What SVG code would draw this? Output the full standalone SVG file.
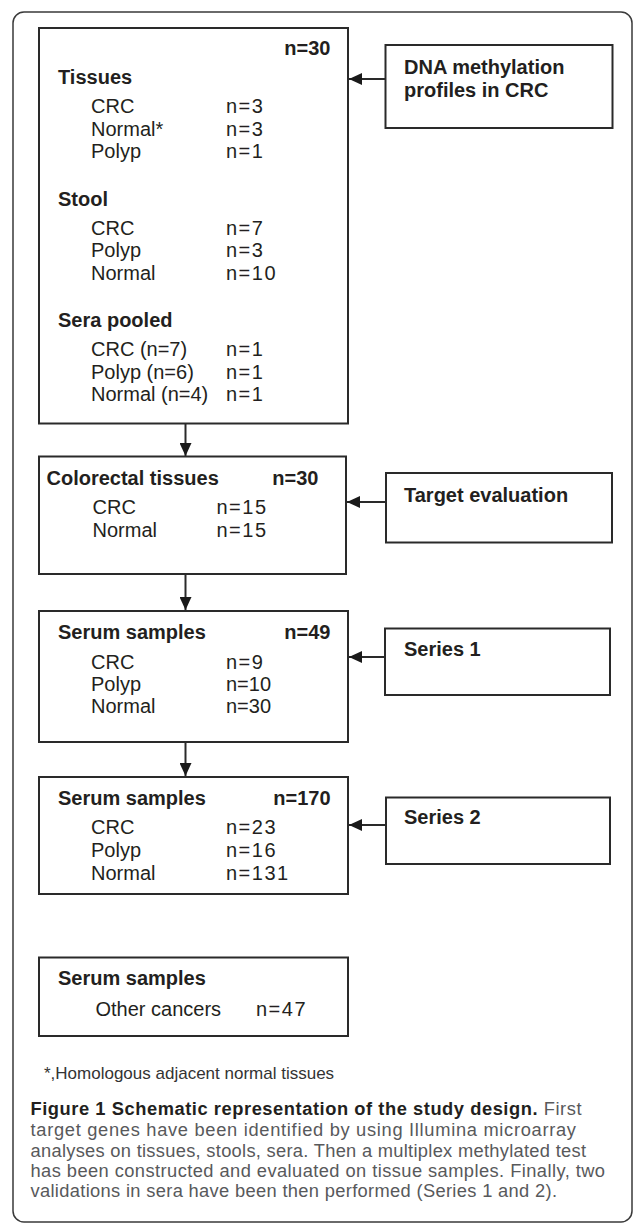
<svg xmlns="http://www.w3.org/2000/svg" width="633" height="1232" viewBox="0 0 633 1232">
  <style>
    .box { fill: #ffffff; stroke: #2a2a2a; stroke-width: 2; }
    .frame { fill: none; stroke: #3a3a3a; stroke-width: 1.5; }
    .t { font-family: "Liberation Sans", Arial, sans-serif; font-size: 20px; fill: #231f20; }
    .b { font-weight: bold; }
    .v { letter-spacing: 1.5px; }
    .conn { stroke: #2a2a2a; stroke-width: 2; fill: none; }
    .foot { font-family: "Liberation Sans", Arial, sans-serif; font-size: 17px; fill: #333333; }
    .cap { font-family: "Liberation Sans", Arial, sans-serif; font-size: 18.3px; fill: #58595b; }
    .capb { font-weight: bold; fill: #231f20; }
  </style>
  <defs>
    <marker id="ah" markerUnits="userSpaceOnUse" markerWidth="14" markerHeight="12" refX="13" refY="6" orient="auto">
      <path d="M0,0 L13,6 L0,12 Z" fill="#1a1a1a"/>
    </marker>
  </defs>

  <rect class="frame" x="13" y="12" width="619" height="1210" rx="11" ry="11"/>

  <g id="connectors">
    <line class="conn" x1="185.5" y1="424" x2="185.5" y2="456" marker-end="url(#ah)"/>
    <line class="conn" x1="185.5" y1="575" x2="185.5" y2="610" marker-end="url(#ah)"/>
    <line class="conn" x1="185.5" y1="743" x2="185.5" y2="776" marker-end="url(#ah)"/>
    <line class="conn" x1="385.5" y1="79" x2="349" y2="79" marker-end="url(#ah)"/>
    <line class="conn" x1="386" y1="502" x2="347" y2="502" marker-end="url(#ah)"/>
    <line class="conn" x1="385" y1="657" x2="349" y2="657" marker-end="url(#ah)"/>
    <line class="conn" x1="386" y1="825" x2="349" y2="825" marker-end="url(#ah)"/>
  </g>

  <g id="discovery">
    <rect class="box" x="39" y="28" width="309" height="395.5"/>
    <text class="t b" x="330.5" y="55" text-anchor="end">n=30</text>
    <text class="t b" x="58" y="84">Tissues</text>
    <text class="t" x="91" y="113">CRC</text>
    <text class="t v" x="226" y="113">n=3</text>
    <text class="t" x="91" y="135.5">Normal*</text>
    <text class="t v" x="226" y="135.5">n=3</text>
    <text class="t" x="91" y="158">Polyp</text>
    <text class="t v" x="226" y="158">n=1</text>
    <text class="t b" x="58" y="205.5">Stool</text>
    <text class="t" x="91" y="234.5">CRC</text>
    <text class="t v" x="226" y="234.5">n=7</text>
    <text class="t" x="91" y="257">Polyp</text>
    <text class="t v" x="226" y="257">n=3</text>
    <text class="t" x="91" y="279.5">Normal</text>
    <text class="t v" x="226" y="279.5">n=10</text>
    <text class="t b" x="58" y="327">Sera pooled</text>
    <text class="t" x="91" y="356">CRC (n=7)</text>
    <text class="t v" x="226" y="356">n=1</text>
    <text class="t" x="91" y="378.5">Polyp (n=6)</text>
    <text class="t v" x="226" y="378.5">n=1</text>
    <text class="t" x="91" y="401">Normal (n=4)</text>
    <text class="t v" x="226" y="401">n=1</text>
  </g>

  <g id="dna-methylation">
    <rect class="box" x="385.5" y="45" width="227" height="83"/>
    <text class="t b" x="404" y="74">DNA methylation</text>
    <text class="t b" x="404" y="97">profiles in CRC</text>
  </g>

  <g id="colorectal-tissues">
    <rect class="box" x="39" y="456.5" width="307" height="117.5"/>
    <text class="t b" x="46.5" y="485">Colorectal tissues</text>
    <text class="t b" x="318.5" y="485" text-anchor="end">n=30</text>
    <text class="t" x="92.5" y="513.5">CRC</text>
    <text class="t v" x="216.5" y="513.5">n=15</text>
    <text class="t" x="92.5" y="536.5">Normal</text>
    <text class="t v" x="216.5" y="536.5">n=15</text>
  </g>

  <g id="target-evaluation">
    <rect class="box" x="386" y="473" width="226" height="69.5"/>
    <text class="t b" x="404" y="502">Target evaluation</text>
  </g>

  <g id="serum-series1">
    <rect class="box" x="39" y="611" width="309" height="131"/>
    <text class="t b" x="58" y="638.5">Serum samples</text>
    <text class="t b" x="330.5" y="638.5" text-anchor="end">n=49</text>
    <text class="t" x="91" y="668.5">CRC</text>
    <text class="t v" x="226" y="668.5">n=9</text>
    <text class="t" x="91" y="690.5">Polyp</text>
    <text class="t" x="226" y="690.5">n=10</text>
    <text class="t" x="91" y="713">Normal</text>
    <text class="t" x="226" y="713">n=30</text>
  </g>

  <g id="series1">
    <rect class="box" x="385" y="628.5" width="225" height="66.5"/>
    <text class="t b" x="404" y="656">Series 1</text>
  </g>

  <g id="serum-series2">
    <rect class="box" x="39" y="777" width="309" height="117"/>
    <text class="t b" x="58" y="805">Serum samples</text>
    <text class="t b" x="330.5" y="805" text-anchor="end">n=170</text>
    <text class="t" x="91" y="834">CRC</text>
    <text class="t v" x="226" y="834">n=23</text>
    <text class="t" x="91" y="856.5">Polyp</text>
    <text class="t v" x="226" y="856.5">n=16</text>
    <text class="t" x="91" y="879.5">Normal</text>
    <text class="t v" x="226" y="879.5">n=131</text>
  </g>

  <g id="series2">
    <rect class="box" x="386" y="797.5" width="224" height="66.5"/>
    <text class="t b" x="404" y="823.5">Series 2</text>
  </g>

  <g id="serum-other">
    <rect class="box" x="39" y="957.5" width="309" height="78.5"/>
    <text class="t b" x="58" y="985">Serum samples</text>
    <text class="t" x="95.5" y="1016">Other cancers</text>
    <text class="t v" x="256" y="1016">n=47</text>
  </g>

  <text class="foot" x="44" y="1079">*,Homologous adjacent normal tissues</text>

  <g id="caption">
    <text class="cap" x="30.5" y="1115" textLength="551" lengthAdjust="spacing"><tspan class="capb">Figure 1 Schematic representation of the study design.</tspan> First</text>
    <text class="cap" x="30.5" y="1136" textLength="545.5" lengthAdjust="spacing">target genes have been identified by using Illumina microarray</text>
    <text class="cap" x="30.5" y="1156.5" textLength="555.5" lengthAdjust="spacing">analyses on tissues, stools, sera. Then a multiplex methylated test</text>
    <text class="cap" x="30.5" y="1177" textLength="574.5" lengthAdjust="spacing">has been constructed and evaluated on tissue samples. Finally, two</text>
    <text class="cap" x="30.5" y="1197" textLength="526.5" lengthAdjust="spacing">validations in sera have been then performed (Series 1 and 2).</text>
  </g>
</svg>
